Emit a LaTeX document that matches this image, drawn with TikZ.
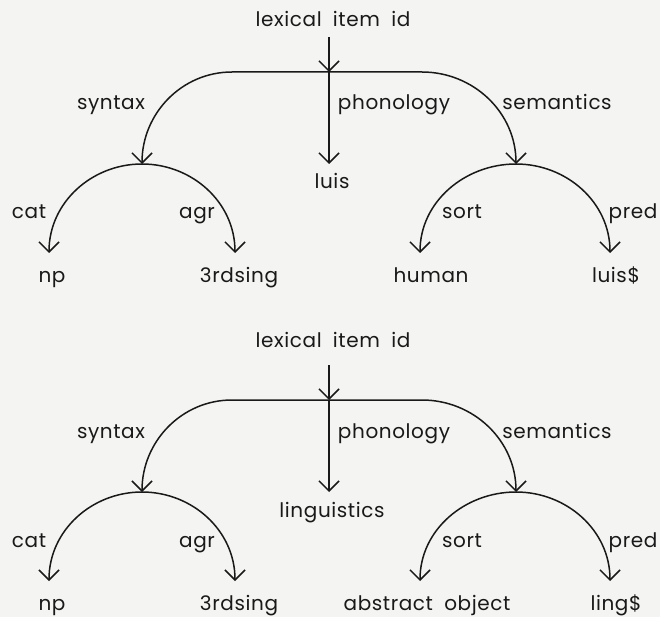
\documentclass[tikz,border=0pt]{standalone}
\usepackage{fontspec}
\setmainfont{Poppins}[LetterSpace=3.0, WordSpace=1.9]
\usetikzlibrary{arrows.meta}

\definecolor{paper}{RGB}{244,244,242}
\definecolor{ink}{RGB}{25,25,25}

\tikzset{
  lbl/.style={inner sep=0pt, anchor=base, text=ink, font=\fontsize{20}{22}\selectfont},
  arr/.style={draw=ink, line width=1.5pt,
    -{Straight Barb[length=10pt, width=20pt, line width=1.5pt]}},
}

% One feature structure for a lexical item:
% #1 name prefix, #2 vertical shift, #3 baseline of the root label,
% #4 phonology value, #5 sort value, #6 x of the sort value, #7 pred value
\newcommand{\featuretree}[7]{%
\begin{scope}[yshift=#2]
  \node[lbl] (#1-root) at (333,#3) {lexical item id};
  \coordinate (#1-top) at (329,37);
  \coordinate (#1-J)   at (329,72);
  \coordinate (#1-syn) at (142,164);
  \coordinate (#1-sem) at (516,164);
  \coordinate (#1-pho) at (329,164);
  \coordinate (#1-cat)  at (49,253);
  \coordinate (#1-agr)  at (235,253);
  \coordinate (#1-sort) at (420,253);
  \coordinate (#1-pred) at (610,253);

  % top-level attributes
  \draw[arr] (#1-top) -- (#1-J);
  \draw[arr] (#1-J) -- ++(-97,0) to[out=180,in=90] (#1-syn);
  \draw[arr] (#1-J) -- ++(93,0) to[out=0,in=90] (#1-sem);
  \draw[arr] (#1-J) -- (#1-pho);
  \node[lbl] (#1-lsyn) at (111,110) {syntax};
  \node[lbl] (#1-lpho) at (394,110) {phonology};
  \node[lbl] (#1-lsem) at (557,110) {semantics};
  \node[lbl] (#1-vpho) at (332,189) {#4};

  % syntax
  \draw[arr] (#1-syn) to[out=180,in=90] (#1-cat);
  \draw[arr] (#1-syn) to[out=0,in=90] (#1-agr);
  \node[lbl] (#1-lcat) at (29,219) {cat};
  \node[lbl] (#1-lagr) at (197,219) {agr};
  \node[lbl] (#1-vcat) at (52,282) {np};
  \node[lbl] (#1-vagr) at (239,282) {3rdsing};

  % semantics
  \draw[arr] (#1-sem) to[out=180,in=90] (#1-sort);
  \draw[arr] (#1-sem) to[out=0,in=90] (#1-pred);
  \node[lbl] (#1-lsort) at (462,219) {sort};
  \node[lbl] (#1-lpred) at (633,219) {pred};
  \node[lbl] (#1-vsort) at (#6,282) {#5};
  \node[lbl] (#1-vpred) at (616,282) {#7};
\end{scope}}

\begin{document}
\begin{tikzpicture}[x=1pt, y=-1pt]
  \fill[paper] (0,0) rectangle (660,617);
  \useasboundingbox (0,0) rectangle (660,617);

  \featuretree{luis}{0pt}{27}{luis}{human}{431}{luis\$}
  \featuretree{ling}{-328pt}{19}{linguistics}{abstract object}{427}{ling\$}
\end{tikzpicture}
\end{document}
